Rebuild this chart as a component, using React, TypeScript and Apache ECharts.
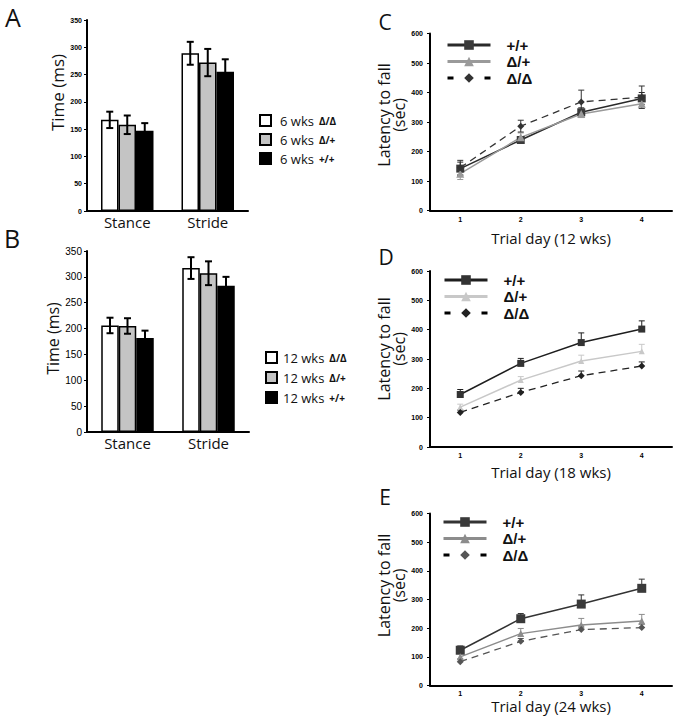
import React, { useEffect, useRef } from 'react';
import * as echarts from 'echarts';

// ---------- Bar panels (A, B) ----------
const barCategories = ['Stance', 'Stride'];
const namesA = ['6 wks Δ/Δ', '6 wks Δ/+', '6 wks +/+'];
const namesB = ['12 wks Δ/Δ', '12 wks Δ/+', '12 wks +/+'];

const aDD = [167, 289];
const aDDErr = [15, 21];
const aDP = [158, 272];
const aDPErr = [17, 25];
const aPP = [147, 255];
const aPPErr = [14, 23];

const bDD = [206, 317];
const bDDErr = [15, 21];
const bDP = [205, 307];
const bDPErr = [15, 23];
const bPP = [182, 283];
const bPPErr = [14, 17];

// ---------- Line panels (C, D, E) ----------
const trialDays = ['1', '2', '3', '4'];
const lineNames = ['+/+', 'Δ/+', 'Δ/Δ'];

const cPP = [142, 239, 333, 380];
const cPPErr = [22, 10, 15, 20];
const cDP = [125, 248, 327, 362];
const cDPErr = [20, 15, 12, 15];
const cDD = [145, 286, 368, 384];
const cDDErr = [25, 20, 40, 38];

const dPP = [179, 285, 356, 402];
const dPPErr = [17, 17, 33, 28];
const dDP = [136, 228, 293, 326];
const dDPErr = [10, 12, 20, 24];
const dDD = [118, 186, 243, 276];
const dDDErr = [8, 14, 16, 14];

const ePP = [123, 233, 284, 339];
const ePPErr = [15, 18, 32, 32];
const eDP = [100, 181, 211, 225];
const eDPErr = [12, 18, 23, 23];
const eDD = [83, 154, 195, 202];
const eDDErr = [10, 10, 12, 12];

const BAR_W = 17.5;

function errData(vals: number[], errs: number[]) {
  return vals.map((v, i) => [i, v, errs[i]]);
}

function errRender(offset: number, cap: number, upperOnly: boolean, color: string, width: number) {
  return (params: any, api: any) => {
    const x = api.value(0);
    const v = api.value(1);
    const e = api.value(2);
    const top = api.coord([x, v + e]);
    const bot = api.coord([x, upperOnly ? v : v - e]);
    const cx = top[0] + offset;
    const style = { stroke: color, lineWidth: width };
    const children: any[] = [
      { type: 'line', shape: { x1: cx, y1: top[1], x2: cx, y2: bot[1] }, style },
      { type: 'line', shape: { x1: cx - cap / 2, y1: top[1], x2: cx + cap / 2, y2: top[1] }, style },
    ];
    if (!upperOnly) {
      children.push({ type: 'line', shape: { x1: cx - cap / 2, y1: bot[1], x2: cx + cap / 2, y2: bot[1] }, style });
    }
    return { type: 'group', children };
  };
}

function errSeries(grid: number, vals: number[], errs: number[], offset: number, cap: number, upperOnly: boolean, color: string, width: number) {
  return {
    type: 'custom',
    xAxisIndex: grid,
    yAxisIndex: grid,
    data: errData(vals, errs),
    encode: { x: 0, y: 1 },
    renderItem: errRender(offset, cap, upperOnly, color, width),
    z: 5,
    silent: true,
  };
}

const barFills = ['#ffffff', '#c4c4c4', '#000000'];

function barSeries(grid: number, names: string[], vals: number[][], errs: number[][]) {
  const out: any[] = [];
  const offsets = [-BAR_W, 0, BAR_W];
  names.forEach((n, k) => {
    out.push({
      type: 'bar',
      name: n,
      xAxisIndex: grid,
      yAxisIndex: grid,
      data: vals[k],
      barWidth: BAR_W,
      barGap: '0%',
      itemStyle: { color: barFills[k], borderColor: '#000', borderWidth: 1.5 },
      z: 2,
    });
  });
  names.forEach((n, k) => {
    out.push(errSeries(grid, vals[k], errs[k], offsets[k], 7, false, '#000', 2));
  });
  return out;
}

interface LineStyleDef {
  color: string;
  symbolColor: string;
  width: number;
  dashed: boolean;
  symbol: string;
  size: number;
}

function lineSeries(grid: number, vals: number[][], errs: number[][], styles: LineStyleDef[], upperOnly: boolean) {
  const out: any[] = [];
  vals.forEach((v, k) => {
    out.push(errSeries(grid, v, errs[k], 0, 6, upperOnly, styles[k].color, 1));
  });
  vals.forEach((v, k) => {
    const s = styles[k];
    out.push({
      type: 'line',
      name: lineNames[k],
      xAxisIndex: grid,
      yAxisIndex: grid,
      data: v,
      symbol: s.symbol,
      symbolSize: s.size,
      showSymbol: true,
      lineStyle: { color: s.color, width: s.width, type: s.dashed ? [7, 5] : 'solid' },
      itemStyle: { color: s.symbolColor },
      z: 6,
    });
  });
  return out;
}

const cStyles: LineStyleDef[] = [
  { color: '#2a2a2a', symbolColor: '#3a3a3a', width: 1.5, dashed: false, symbol: 'rect', size: 8 },
  { color: '#9a9a9a', symbolColor: '#9a9a9a', width: 1.5, dashed: false, symbol: 'triangle', size: 8 },
  { color: '#333333', symbolColor: '#333333', width: 1.3, dashed: true, symbol: 'diamond', size: 7 },
];
const dStyles: LineStyleDef[] = [
  { color: '#1e1e1e', symbolColor: '#333333', width: 1.5, dashed: false, symbol: 'rect', size: 7 },
  { color: '#c8c8c8', symbolColor: '#c8c8c8', width: 1.5, dashed: false, symbol: 'triangle', size: 6 },
  { color: '#222222', symbolColor: '#222222', width: 1.3, dashed: true, symbol: 'diamond', size: 7 },
];
const eStyles: LineStyleDef[] = [
  { color: '#333333', symbolColor: '#3a3a3a', width: 1.5, dashed: false, symbol: 'rect', size: 9 },
  { color: '#8c8c8c', symbolColor: '#8c8c8c', width: 1.3, dashed: false, symbol: 'triangle', size: 7 },
  { color: '#555555', symbolColor: '#555555', width: 1.3, dashed: true, symbol: 'diamond', size: 7 },
];

function barLegend(names: string[], left: number, top: number, gap: number, padA: number) {
  return {
    orient: 'vertical',
    left,
    top,
    padding: 0,
    itemWidth: 11,
    itemHeight: 11,
    itemGap: gap,
    icon: 'rect',
    selectedMode: false,
    data: names,
    formatter: (name: string) => {
      const i = name.lastIndexOf(' ');
      return `{a|${name.slice(0, i)}}{b|${name.slice(i + 1)}}`;
    },
    textStyle: {
      rich: {
        a: { fontFamily: 'Open Sans', fontSize: 13, color: '#111', lineHeight: 14, verticalAlign: 'middle', padding: [0, 0, 0, padA] },
        b: { fontFamily: 'Open Sans', fontSize: 10, fontWeight: 'bold', color: '#111', lineHeight: 14, verticalAlign: 'middle', padding: [0, 0, 0, 5] },
      },
    },
  };
}

function lineLegend(left: number, top: number, styles: LineStyleDef[]) {
  return {
    orient: 'vertical',
    left,
    top,
    padding: 0,
    itemWidth: 43,
    itemHeight: 12,
    itemGap: 1.5,
    selectedMode: false,
    lineStyle: { width: 3 },
    data: lineNames.map((n, k) => ({
      name: n,
      itemStyle: { color: styles[k].symbolColor },
      lineStyle: { color: k === 2 ? '#000' : styles[k].color, type: k === 2 ? [6, 12.5] : 'solid', width: 3 },
    })),
    formatter: (name: string) => `{t|${name}}`,
    textStyle: {
      rich: {
        t: { fontFamily: 'Liberation Sans', fontSize: 15, fontWeight: 'bold', color: '#111', lineHeight: 16, padding: [0, 0, 0, 11] },
      },
    },
  };
}

function barXAxis(grid: number) {
  return {
    type: 'category',
    gridIndex: grid,
    data: barCategories,
    axisLine: { lineStyle: { color: '#000', width: 2 } },
    axisTick: { show: false },
    axisLabel: { fontFamily: 'Open Sans', fontSize: 15, color: '#111', margin: 3 },
  };
}

function barYAxis(grid: number, labelSize: number, bold: boolean, nameSize: number, nameGap: number, namePadLeft: number) {
  return {
    type: 'value',
    gridIndex: grid,
    min: 0,
    max: 350,
    interval: 50,
    name: 'Time (ms)',
    nameLocation: 'middle',
    nameRotate: 90,
    nameGap,
    nameTextStyle: { fontFamily: 'Open Sans', fontSize: nameSize, color: '#111', padding: [0, 0, 0, namePadLeft] },
    splitLine: { show: false },
    axisLine: { show: true, lineStyle: { color: '#000', width: 2 } },
    axisTick: { show: true, length: 3, lineStyle: { color: '#000', width: 1 } },
    axisLabel: { fontFamily: 'Liberation Sans', fontSize: labelSize, fontWeight: bold ? 'bold' : 'normal', color: '#000', margin: 5 },
  };
}

function lineXAxis(grid: number, title: string, nameGap: number, labelMargin: number) {
  return {
    type: 'category',
    gridIndex: grid,
    data: trialDays,
    boundaryGap: true,
    name: title,
    nameLocation: 'middle',
    nameGap,
    nameTextStyle: { fontFamily: 'Open Sans', fontSize: 15, color: '#111' },
    axisLine: { lineStyle: { color: '#000', width: 2 } },
    axisTick: { show: false },
    axisLabel: { fontFamily: 'Liberation Sans', fontSize: 7, fontWeight: 'bold', color: '#000', margin: labelMargin },
  };
}

function lineYAxis(grid: number, padLeft: number) {
  return {
    type: 'value',
    gridIndex: grid,
    min: 0,
    max: 600,
    interval: 100,
    name: 'Latency to fall\n(sec)',
    nameLocation: 'middle',
    nameRotate: 90,
    nameGap: 22,
    nameTextStyle: { fontFamily: 'Open Sans', fontSize: 16, color: '#111', lineHeight: 15, padding: [0, 0, 0, padLeft] },
    splitLine: { show: false },
    axisLine: { show: true, lineStyle: { color: '#000', width: 2 } },
    axisTick: { show: true, length: 3, lineStyle: { color: '#000', width: 1 } },
    axisLabel: { fontFamily: 'Liberation Sans', fontSize: 7, fontWeight: 'bold', color: '#000', margin: 7 },
  };
}

function letter(text: string, x: number, y: number, size: number) {
  return {
    type: 'text',
    x,
    y,
    style: { text, fontFamily: 'Open Sans', fontSize: size, fill: '#111', align: 'center', verticalAlign: 'middle' },
  };
}

export default function App() {
  const ref = useRef<HTMLDivElement>(null);

  useEffect(() => {
    if (!ref.current) return;
    const chart = echarts.init(ref.current, null, { renderer: 'svg' });
    const option: any = {
      animation: false,
      backgroundColor: '#ffffff',
      textStyle: { fontFamily: 'Open Sans' },
      grid: [
        { left: 87, top: 20, width: 161, height: 191 },
        { left: 87, top: 251, width: 162, height: 181 },
        { left: 430, top: 33.5, width: 242, height: 177 },
        { left: 430, top: 271, width: 242, height: 176 },
        { left: 430, top: 513.5, width: 242, height: 172 },
      ],
      xAxis: [
        barXAxis(0),
        barXAxis(1),
        lineXAxis(2, 'Trial day (12 wks)', 20, 5),
        lineXAxis(3, 'Trial day (18 wks)', 17, 5),
        lineXAxis(4, 'Trial day (24 wks)', 13, 4),
      ],
      yAxis: [
        barYAxis(0, 7, true, 17, 21, 46),
        barYAxis(1, 10, false, 16, 23, 6),
        lineYAxis(2, 14),
        lineYAxis(3, 20),
        lineYAxis(4, 28),
      ],
      legend: [
        barLegend(namesA, 259, 114, 6, 4),
        barLegend(namesB, 265, 351, 7, 1),
        lineLegend(446, 37.5, cStyles),
        lineLegend(443, 272.5, dStyles),
        lineLegend(442, 514.5, eStyles),
      ],
      graphic: [
        letter('A', 13, 17, 25),
        letter('B', 12, 238, 25),
        letter('C', 385, 22, 21),
        letter('D', 386, 257, 21),
        letter('E', 385, 497, 21),
      ],
      series: [
        ...barSeries(0, namesA, [aDD, aDP, aPP], [aDDErr, aDPErr, aPPErr]),
        ...barSeries(1, namesB, [bDD, bDP, bPP], [bDDErr, bDPErr, bPPErr]),
        ...lineSeries(2, [cPP, cDP, cDD], [cPPErr, cDPErr, cDDErr], cStyles, false),
        ...lineSeries(3, [dPP, dDP, dDD], [dPPErr, dDPErr, dDDErr], dStyles, true),
        ...lineSeries(4, [ePP, eDP, eDD], [ePPErr, eDPErr, eDDErr], eStyles, true),
      ],
    };
    chart.setOption(option);
    return () => chart.dispose();
  }, []);

  return (
    <div
      ref={ref}
      style={{ position: 'absolute', left: 0, top: 0, width: 674, height: 720, background: '#fff' }}
    />
  );
}
